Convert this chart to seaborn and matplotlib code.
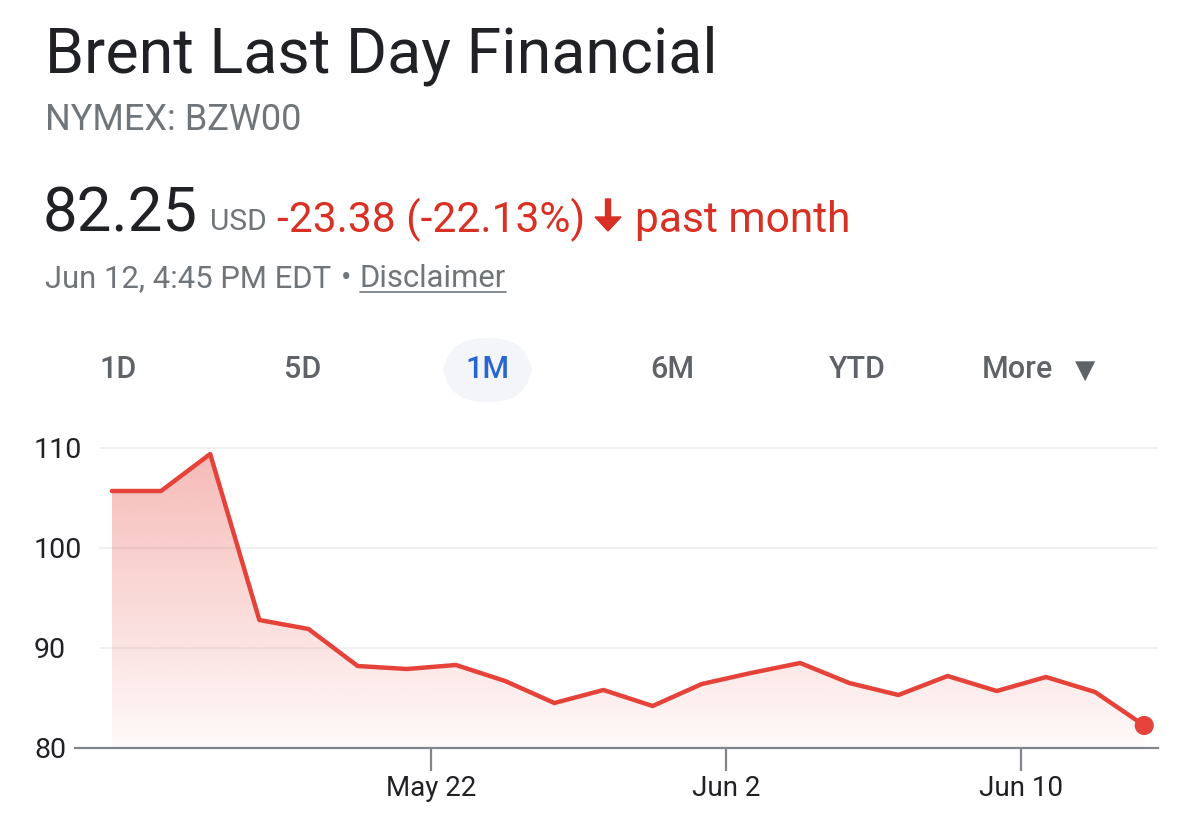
import numpy as np
import pandas as pd
import seaborn as sns
from matplotlib import pyplot as plt
from matplotlib.patches import FancyArrow, FancyBboxPatch

# values (one point per trading day)
prices = [105.7, 105.7, 109.4, 92.8, 91.9, 88.2, 87.9, 88.3, 86.7, 84.5, 85.8,
          84.2, 86.4, 87.5, 88.5, 86.5, 85.3, 87.2, 85.7, 87.1, 85.6, 82.25]
date_tick_pos = [6.5, 12.5, 18.5]
date_tick_labels = ["May 22", "Jun 2", "Jun 10"]
price_ticks = [80, 90, 100, 110]
range_buttons = ["1D", "5D", "1M", "6M", "YTD"]

df = pd.DataFrame({"day": np.arange(len(prices)), "price": prices})

RED_LINE = "#e5433a"
RED_TXT = "#d93025"
DARK = "#202124"
GREY = "#5f6368"
LIGHT_GREY = "#70757a"
AXIS_GREY = "#80868b"

sns.set_theme(style="white")
plt.rcParams["font.family"] = ["Roboto", "DejaVu Sans"]

W, H = 1200, 823
fig = plt.figure(figsize=(W / 100, H / 100), dpi=100)


def fx(x):
    return x / W


def fy(y):
    return 1 - y / H


# ---- header ----
fig.text(fx(45), fy(72), "Brent Last Day Financial", fontsize=45.2, color=DARK, va="baseline")
fig.text(fx(45), fy(130), "NYMEX: BZW00", fontsize=26, color=LIGHT_GREY, va="baseline")
fig.text(fx(43), fy(232), "82.25", fontsize=44.5, color=DARK, va="baseline")
fig.text(fx(210), fy(230), "USD", fontsize=21.5, color=LIGHT_GREY, va="baseline")
fig.text(fx(277), fy(232), "-23.38 (-22.13%)", fontsize=30.6, color=RED_TXT, va="baseline")
fig.patches.append(FancyArrow(fx(608), fy(199), 0, fy(231) - fy(199), width=fx(5),
                              head_width=fx(26), head_length=(fy(217) - fy(231)),
                              length_includes_head=True, color=RED_TXT,
                              transform=fig.transFigure, figure=fig))
fig.text(fx(635), fy(232), "past month", fontsize=30.6, color=RED_TXT, va="baseline")
fig.text(fx(45), fy(287), "Jun 12, 4:45 PM EDT", fontsize=22.3, color=LIGHT_GREY, va="baseline")
fig.text(fx(346), fy(287), "\u2022", fontsize=22.3, color=LIGHT_GREY, va="baseline", ha="center")
disc = fig.text(fx(360), fy(287), "Disclaimer", fontsize=22.3, color=LIGHT_GREY, va="baseline")

# underline under Disclaimer
fig.canvas.draw()
bb = disc.get_window_extent()
fig.add_artist(plt.Line2D([bb.x0 / W, bb.x1 / W], [fy(292), fy(292)],
                          color=LIGHT_GREY, lw=1.2, transform=fig.transFigure))

# range selector
btn_x = [118, 303, 488, 672, 857]
fig.patches.append(FancyBboxPatch((fx(443), fy(402)), fx(89), fy(338) - fy(402),
                                  boxstyle="round,pad=0,rounding_size=0.035",
                                  mutation_aspect=(W / H),
                                  fc="#f3f5f8", ec="none",
                                  transform=fig.transFigure, figure=fig))
for lab, bx in zip(range_buttons, btn_x):
    col = "#2a66cf" if lab == "1M" else GREY
    fig.text(fx(bx), fy(370), lab, fontsize=22, color=col, weight="medium",
             ha="center", va="center")
fig.text(fx(982), fy(370), "More", fontsize=22, color=GREY, weight="medium", va="center")
fig.text(fx(1085), fy(371), "\u25bc", fontsize=19, color=GREY, ha="center", va="center",
         family="DejaVu Sans")

# ---- chart ----
ax = fig.add_axes([fx(75), fy(748), fx(1158) - fx(75), (748 - 438) / H])
x_lo, x_hi = -0.75, 21.28

sns.lineplot(data=df, x="day", y="price", color=RED_LINE, linewidth=3.2, ax=ax, zorder=4)
sns.scatterplot(data=df.tail(1), x="day", y="price", color=RED_LINE, s=190,
                edgecolor="none", ax=ax, zorder=5)

# gradient fill under the line
poly = ax.fill_between(df["day"], df["price"], 80, facecolor="none", edgecolor="none")
grad = np.zeros((256, 1, 4))
rgb = plt.matplotlib.colors.to_rgb(RED_LINE)
grad[:, 0, 0], grad[:, 0, 1], grad[:, 0, 2] = rgb
grad[:, 0, 3] = np.linspace(0.03, 0.37, 256)
im = ax.imshow(grad, extent=[df["day"].min(), df["day"].max(), 80, 110],
               origin="lower", aspect="auto", zorder=2)
im.set_clip_path(poly.get_paths()[0], transform=ax.transData)

# light grid lines (not at the baseline)
ax.hlines(price_ticks[1:], -0.26, x_hi, color="#f1f1f1", lw=1.5, zorder=1)

ax.set_xlim(x_lo, x_hi)
ax.set_ylim(80, 111)
ax.set_xticks(date_tick_pos)
ax.set_xticklabels(date_tick_labels)
ax.set_yticks(price_ticks)
ax.set_yticklabels([str(v) for v in price_ticks])
ax.set_xlabel("")
ax.set_ylabel("")

for s in ["top", "right", "left"]:
    ax.spines[s].set_visible(False)
ax.spines["bottom"].set_color(AXIS_GREY)
ax.spines["bottom"].set_linewidth(1.6)
ax.spines["bottom"].set_zorder(3)

ax.tick_params(axis="x", bottom=True, direction="out", length=16.5, width=1.6,
               color=AXIS_GREY, labelsize=20, labelcolor=DARK, pad=3)
ax.tick_params(axis="y", left=False, labelsize=20.5, labelcolor=DARK, pad=23.5)
plt.setp(ax.get_yticklabels(), ha="left")
ax.grid(False)
ax.set_facecolor("white")

fig.savefig("out.png", dpi=100, facecolor="white")
